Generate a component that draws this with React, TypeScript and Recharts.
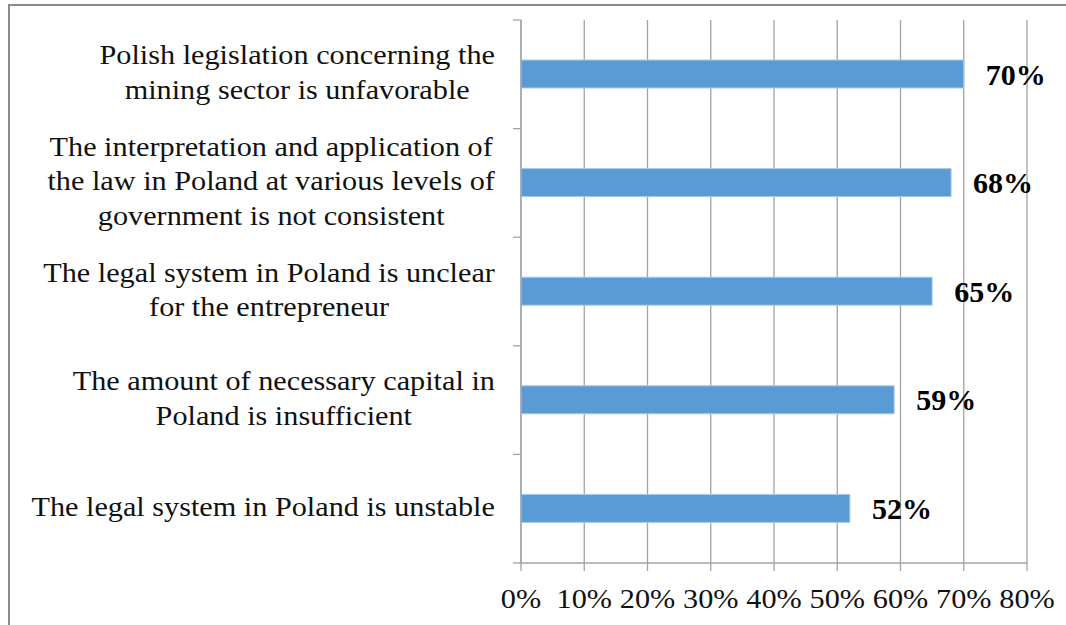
import React from "react";
import { ComposedChart, Bar, XAxis, YAxis, CartesianGrid, LabelList } from "recharts";

const categories = [
  "Polish legislation concerning the mining sector is unfavorable",
  "The interpretation and application of the law in Poland at various levels of government is not consistent",
  "The legal system in Poland is unclear for the entrepreneur",
  "The amount of necessary capital in Poland is insufficient",
  "The legal system in Poland is unstable",
];
const categoryLines: string[][] = [
  ["Polish legislation concerning the", "mining sector is unfavorable"],
  ["The interpretation and application of", "the law in Poland at various levels of", "government is not consistent"],
  ["The legal system in Poland is unclear", "for the entrepreneur"],
  ["The amount of necessary capital in", "Poland is insufficient"],
  ["The legal system in Poland is unstable"],
];
const values = [70, 68, 65, 59, 52];
const xTicks = [0, 10, 20, 30, 40, 50, 60, 70, 80];

const data = categories.map((name, i) => ({ name, value: values[i] }));

const FONT = '"Liberation Serif", "Times New Roman", serif';
const GRID = "#a3a3a3";
const CAT_SIZE = 27;
const STRETCH = 1.12;
const LINE_H = 34.5;

let ctx: CanvasRenderingContext2D | null = null;
function measure(t: string): number {
  if (!ctx) {
    const c = document.createElement("canvas");
    ctx = c.getContext("2d");
  }
  if (!ctx) return t.length * CAT_SIZE * 0.45;
  ctx.font = `${CAT_SIZE}px ${FONT}`;
  return ctx.measureText(t).width;
}

function CategoryTick(props: any) {
  const { x, y, index, payload, visibleTicksCount } = props;
  const lines = categoryLines[index] || [String(payload.value)];
  const half = payload && payload.offset ? payload.offset : 54;
  const maxW = Math.max(...lines.map(measure)) * STRETCH;
  const cx = x - 26 - maxW / 2;
  const startY = y - 2 - ((lines.length - 1) * LINE_H) / 2;
  const last = index === (visibleTicksCount ?? categories.length) - 1;
  return (
    <g>
      <line x1={x - 8} x2={x} y1={y - half} y2={y - half} stroke={GRID} strokeWidth={1.3} />
      {last && <line x1={x - 8} x2={x} y1={y + half} y2={y + half} stroke={GRID} strokeWidth={1.3} />}
      <text
        x={cx}
        y={startY}
        textAnchor="middle"
        dominantBaseline="central"
        fontFamily={FONT}
        fontSize={CAT_SIZE}
        fill="#111"
        transform={`translate(${cx},0) scale(${STRETCH},1) translate(${-cx},0)`}
      >
        {lines.map((l, i) => (
          <tspan key={i} x={cx} y={startY + i * LINE_H} dominantBaseline="central">
            {l}
          </tspan>
        ))}
      </text>
    </g>
  );
}

function XTick(props: any) {
  const { x, y, payload } = props;
  return (
    <text
      x={x}
      y={y}
      dy="0.71em"
      textAnchor="middle"
      fontFamily={FONT}
      fontSize={28}
      fill="#111"
      transform={`translate(${x},0) scale(1.08,1) translate(${-x},0)`}
    >
      {`${payload.value}%`}
    </text>
  );
}

export default function App() {
  return (
    <div style={{ position: "absolute", left: 8, top: 4, width: 1050, height: 613 }}>
      <div style={{ position: "absolute", left: 0, top: 0, width: 1058, height: 2, background: "#8c8c8c" }} />
      <div style={{ position: "absolute", left: 0, top: 0, width: 2, height: 621, background: "#8c8c8c" }} />
      <ComposedChart
        width={1050}
        height={613}
        data={data}
        layout="vertical"
        margin={{ top: 16, right: 31, left: 0, bottom: 0 }}
        barCategoryGap={0}
      >
        <CartesianGrid horizontal={false} vertical={true} stroke={GRID} strokeWidth={1.3} />
        <XAxis
          type="number"
          domain={[0, 80]}
          ticks={xTicks}
          interval={0}
          height={54}
          tickSize={8}
          tickMargin={17}
          axisLine={{ stroke: GRID, strokeWidth: 1.3 }}
          tickLine={{ stroke: GRID, strokeWidth: 1.3 }}
          tick={<XTick />}
        />
        <YAxis
          type="category"
          dataKey="name"
          width={513}
          interval={0}
          tickSize={0}
          tickMargin={0}
          tickLine={false}
          axisLine={{ stroke: GRID, strokeWidth: 1.3 }}
          tick={<CategoryTick />}
        />
        <Bar dataKey="value" fill="#5b9bd5" stroke="#a9cbea" strokeWidth={1} barSize={28} isAnimationActive={false}>
          <LabelList
            dataKey="value"
            position="right"
            offset={22}
            formatter={(v: any) => `${v}%`}
            fontSize={30}
            fontWeight={700}
            fontFamily={FONT}
            fill="#000"
          />
        </Bar>
      </ComposedChart>
    </div>
  );
}
